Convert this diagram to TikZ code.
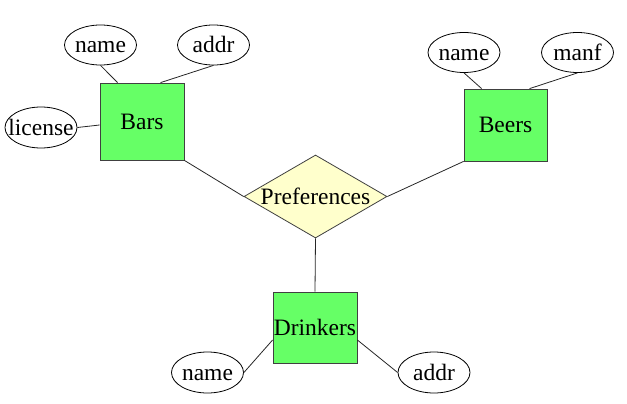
\documentclass[tikz,border=0pt]{standalone}
\usepackage{fontspec}
\setmainfont{Liberation Serif}
\usetikzlibrary{shapes.geometric}
\definecolor{entgreen}{HTML}{66FF66}
\definecolor{relyellow}{HTML}{FFFFCC}
\newcommand{\attrtext}[1]{\makebox[0pt]{#1}}
\begin{document}
\begin{tikzpicture}[x=1pt,y=-1pt,
  every node/.style={font=\fontsize{23.5}{28}\selectfont, inner sep=0pt, text height=15.5pt, text depth=0pt},
  entity/.style={draw=black!75, fill=entgreen, rectangle, line width=0.8pt},
  attr/.style={draw=black, ellipse, line width=0.8pt, minimum width=72pt, minimum height=40pt},
  rel/.style={draw=black!75, fill=relyellow, diamond, line width=0.8pt, minimum width=143pt, minimum height=83pt},
  conn/.style={draw=black!85, line width=0.8pt}]
\useasboundingbox (0,0) rectangle (627,404);
% entities
\node[entity, minimum width=84pt, minimum height=77pt] (bars) at (142,121.5) {Bars};
\node[entity, minimum width=83pt, minimum height=72pt] (beers) at (505.5,125) {Beers};
\node[entity, minimum width=84pt, minimum height=71pt] (drinkers) at (315,327.5) {Drinkers};
% relationship
\node[rel] (pref) at (315.5,196.5) {};
\node (preftext) at (315.5,197) {Preferences};
% attributes
\node[attr] (bname) at (100.5,45) {\attrtext{name}};
\node[attr] (baddr) at (213.5,45) {\attrtext{addr}};
\node[attr, minimum height=41pt] (blic) at (41,127.5) {\attrtext{license}};
\node[attr] (ename) at (464,52.5) {\attrtext{name}};
\node[attr] (emanf) at (577.5,52.5) {\attrtext{manf}};
\node[attr, minimum height=41pt] (dname) at (207.5,372.5) {\attrtext{name}};
\node[attr, minimum height=41pt] (daddr) at (434,372.5) {\attrtext{addr}};
% connectors
\draw[conn] (bname.south) -- ([xshift=18pt]bars.north west);
\draw[conn] (baddr.south) -- ([xshift=61pt]bars.north west);
\draw[conn] (blic.east) -- ([yshift=-3.5pt]bars.west);
\draw[conn] (ename.south) -- ([xshift=18pt]beers.north west);
\draw[conn] (emanf.south) -- ([xshift=66pt]beers.north west);
\draw[conn] (bars.south east) -- (pref.west);
\draw[conn] (beers.south west) -- (pref.east);
\draw[conn] (pref.south) -- (drinkers.north);
\draw[conn] (dname.east) -- ([yshift=-12.5pt]drinkers.west);
\draw[conn] (daddr.west) -- ([yshift=-12.5pt]drinkers.east);
\end{tikzpicture}
\end{document}
